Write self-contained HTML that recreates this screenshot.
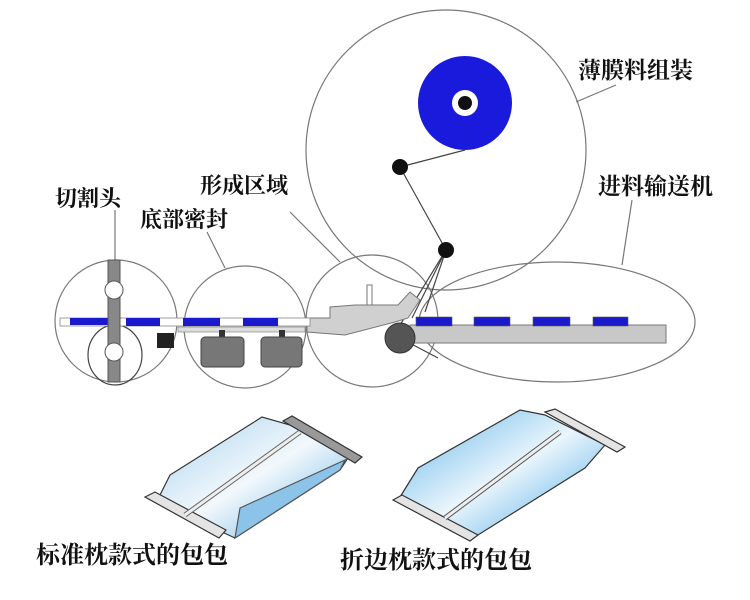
<!DOCTYPE html>
<html><head><meta charset="utf-8"><style>
html,body{margin:0;padding:0;background:#fff;}
svg{display:block}
text{font-family:"Liberation Serif","Noto Serif CJK SC",serif;fill:#111;font-weight:bold;}
</style></head><body>
<svg width="750" height="600" viewBox="0 0 750 600" xmlns="http://www.w3.org/2000/svg">
<defs>
<linearGradient id="bg1" x1="0" y1="0" x2="1" y2="1">
<stop offset="0" stop-color="#a9d3ee"/><stop offset="0.5" stop-color="#f2f8fc"/><stop offset="1" stop-color="#5fb0e3"/>
</linearGradient>
<linearGradient id="bg2" x1="0" y1="0" x2="1" y2="1">
<stop offset="0" stop-color="#5fb4e8"/><stop offset="0.5" stop-color="#eaf5fc"/><stop offset="1" stop-color="#3ea4e4"/>
</linearGradient>
</defs>
<g fill="none" stroke="#777" stroke-width="1.2">
<circle cx="446" cy="150" r="140"/>
<ellipse cx="557" cy="322" rx="138" ry="60"/>
<circle cx="116" cy="321" r="61"/>
<circle cx="245" cy="327" r="61"/>
<circle cx="372" cy="321" r="66"/>
<ellipse cx="115" cy="355" rx="27" ry="30" stroke="#444"/>
<line x1="616" y1="85" x2="576" y2="102"/>
<line x1="632" y1="200" x2="622" y2="265"/>
<line x1="115" y1="210" x2="115" y2="260"/>
<line x1="207" y1="232" x2="225" y2="268"/>
<line x1="290" y1="212" x2="340" y2="262"/>
</g>
<circle cx="465" cy="103" r="47" fill="#1a1adc"/>
<circle cx="465" cy="103" r="13" fill="#fff"/>
<circle cx="465" cy="103" r="7" fill="#111"/>
<g stroke="#444" stroke-width="1.2" fill="none">
<line x1="400" y1="167" x2="465" y2="150"/>
<line x1="400" y1="167" x2="446" y2="250"/>
<line x1="446" y1="250" x2="400" y2="325"/>
<line x1="446" y1="250" x2="412" y2="318"/>
<line x1="446" y1="250" x2="425" y2="312"/>
<line x1="400" y1="338" x2="438" y2="358"/>
</g>
<circle cx="400" cy="167" r="8" fill="#111"/>
<circle cx="446" cy="250" r="8" fill="#111"/>
<rect x="410" y="325" width="256" height="18" fill="#c8c8c8" stroke="#777"/>
<g fill="#1a1acc" stroke="#555" stroke-width="0.6">
<rect x="416" y="317" width="36" height="9"/><rect x="474" y="317" width="36" height="9"/>
<rect x="533" y="317" width="37" height="9"/><rect x="593" y="317" width="35" height="9"/>
</g>
<circle cx="400" cy="338" r="15" fill="#555" stroke="#333"/>
<path d="M307 318 L330 318 L330 307 L355 305 L398 305 L410 292 L420 300 L408 318 L395 322 L345 335 L307 332 Z" fill="#d0d0d0" stroke="#777"/>
<rect x="367" y="285" width="5" height="20" fill="#fff" stroke="#777"/>
<rect x="60" y="318" width="250" height="8" fill="#fff" stroke="#888" stroke-width="0.8"/>
<g fill="#1a1acc">
<rect x="70" y="318" width="38" height="7"/><rect x="126" y="318" width="34" height="8"/>
<rect x="183" y="318" width="37" height="8"/><rect x="243" y="318" width="35" height="8"/>
</g>
<rect x="178" y="327" width="127" height="5" fill="#ddd" stroke="#777" stroke-width="0.6"/>
<rect x="108" y="260" width="12" height="122" fill="#888" stroke="#555"/>
<circle cx="114" cy="290" r="9" fill="#fff" stroke="#555"/>
<circle cx="114" cy="352" r="9" fill="#fff" stroke="#555"/>
<rect x="157" y="333" width="17" height="15" fill="#222"/>
<rect x="219" y="330" width="6" height="8" fill="#333"/><rect x="279" y="330" width="6" height="8" fill="#333"/>
<rect x="201" y="337" width="43" height="30" rx="4" fill="#777" stroke="#444"/>
<rect x="261" y="337" width="41" height="30" rx="4" fill="#777" stroke="#444"/>
<!-- bag 1 -->
<g stroke="#333" stroke-width="1.2">
<polygon points="160,495 170,475 262,417 290,425 350,455 340,470 235,538 222,532" fill="url(#bg1)"/>
<polygon points="235,538 240,508 345,460 340,470" fill="#8cc3e8" stroke="#555"/>
<polygon points="145,497 155,492 226,530 219,538" fill="#e4e4e4"/>
<polygon points="283,421 292,416 362,457 355,463" fill="#999"/>
<polyline points="185,515 300,432" fill="none" stroke="#666" stroke-width="5"/>
<polyline points="185,515 300,432" fill="none" stroke="#eee" stroke-width="3"/>
</g>
<!-- bag 2 -->
<g stroke="#333" stroke-width="1.2">
<polygon points="400,497 418,468 520,410 545,415 605,445 585,468 470,540 460,535" fill="url(#bg2)"/>
<polygon points="393,500 402,495 478,535 470,541" fill="#e4e4e4"/>
<polygon points="545,412 555,409 625,447 617,452" fill="#e4e4e4"/>
<polyline points="445,518 560,432" fill="none" stroke="#555" stroke-width="5"/>
<polyline points="445,518 560,432" fill="none" stroke="#eee" stroke-width="3"/>
</g>
<text x="578" y="78" font-size="23">薄膜料组装</text>
<text x="598" y="194" font-size="23">进料输送机</text>
<text x="55" y="206" font-size="22">切割头</text>
<text x="140" y="227" font-size="22">底部密封</text>
<text x="200" y="193" font-size="22">形成区域</text>
<text x="36" y="563" font-size="24">标准枕款式的包包</text>
<text x="340" y="568" font-size="24">折边枕款式的包包</text>
</svg>
</body></html>
